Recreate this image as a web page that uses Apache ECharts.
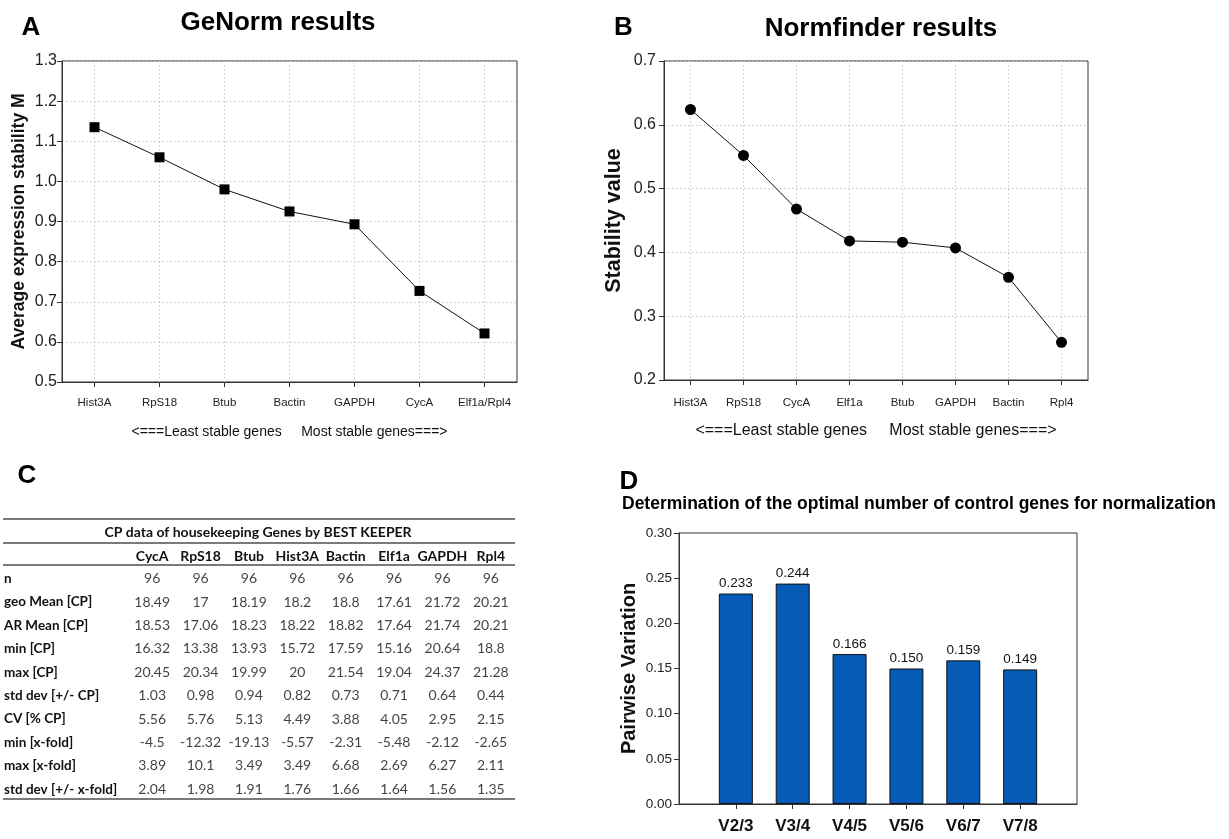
<!DOCTYPE html>
<html>
<head>
<meta charset="utf-8">
<script src="https://cdn.jsdelivr.net/npm/echarts@6/dist/echarts.min.js"></script>
<style>
html,body{margin:0;padding:0;background:#fff;}
#c{width:1229px;height:839px;}
</style>
</head>
<body>
<div id="c"></div>
<script>
// ---- Data ----
const genormGenes = ['Hist3A','RpS18','Btub','Bactin','GAPDH','CycA','Elf1a/Rpl4'];
const genormM = [1.135, 1.06, 0.98, 0.925, 0.893, 0.727, 0.621];
const genormTicks = [0.5,0.6,0.7,0.8,0.9,1.0,1.1,1.2,1.3];

const normGenes = ['Hist3A','RpS18','CycA','Elf1a','Btub','GAPDH','Bactin','Rpl4'];
const normStability = [0.624, 0.552, 0.468, 0.418, 0.416, 0.407, 0.361, 0.259];
const normTicks = [0.2,0.3,0.4,0.5,0.6,0.7];

const pairLabels = ['V2/3','V3/4','V4/5','V5/6','V6/7','V7/8'];
const pairValues = [0.233, 0.244, 0.166, 0.150, 0.159, 0.149];
const pairTicks = [0,0.05,0.10,0.15,0.20,0.25,0.30];

const tableGenes = ['CycA','RpS18','Btub','Hist3A','Bactin','Elf1a','GAPDH','Rpl4'];
const rowLabels = ['n','geo Mean [CP]','AR Mean [CP]','min [CP]','max [CP]','std dev [+/- CP]','CV [% CP]','min [x-fold]','max [x-fold]','std dev [+/- x-fold]'];
const rowN       = [96, 96, 96, 96, 96, 96, 96, 96];
const rowGeoMean = [18.49, 17, 18.19, 18.2, 18.8, 17.61, 21.72, 20.21];
const rowArMean  = [18.53, 17.06, 18.23, 18.22, 18.82, 17.64, 21.74, 20.21];
const rowMinCP   = [16.32, 13.38, 13.93, 15.72, 17.59, 15.16, 20.64, 18.8];
const rowMaxCP   = [20.45, 20.34, 19.99, 20, 21.54, 19.04, 24.37, 21.28];
const rowSdCP    = [1.03, 0.98, 0.94, 0.82, 0.73, 0.71, 0.64, 0.44];
const rowCV      = [5.56, 5.76, 5.13, 4.49, 3.88, 4.05, 2.95, 2.15];
const rowMinFold = [-4.5, -12.32, -19.13, -5.57, -2.31, -5.48, -2.12, -2.65];
const rowMaxFold = [3.89, 10.1, 3.49, 3.49, 6.68, 2.69, 6.27, 2.11];
const rowSdFold  = [2.04, 1.98, 1.91, 1.76, 1.66, 1.64, 1.56, 1.35];

// ---- Build ----
const tableRows = [rowN,rowGeoMean,rowArMean,rowMinCP,rowMaxCP,rowSdCP,rowCV,rowMinFold,rowMaxFold,rowSdFold];
const tableData = [];
tableRows.forEach((row, r) => row.forEach((v, c) => tableData.push([c, r, String(v)])));

const pairCats = [''].concat(pairLabels, ['']);
const pairData = [null].concat(pairValues, [null]);

const SANS = "'Liberation Sans',Arial,sans-serif";
const TBL = "Lato,'Open Sans',sans-serif";

const dotted = {show:true, lineStyle:{color:'#c6c6c6', type:[1.5,2.5], width:1}};
const axLine = {show:true, lineStyle:{color:'#333', width:1}};

const chart = echarts.init(document.getElementById('c'), null, {renderer:'canvas'});
chart.setOption({
  animation:false,
  backgroundColor:'#fff',
  textStyle:{fontFamily:SANS},
  grid:[
    {left:62, top:61, width:455, height:321, show:true, borderColor:'#333', borderWidth:1},
    {left:664, top:61, width:424, height:319, show:true, borderColor:'#333', borderWidth:1},
    {left:679, top:533, width:398, height:271, show:true, borderColor:'#333', borderWidth:1},
    {left:128, top:567, width:387, height:234, show:false}
  ],
  xAxis:[
    {gridIndex:0, type:'category', data:genormGenes, boundaryGap:true,
     axisLine:axLine, axisTick:{show:true, alignWithLabel:true, length:5, lineStyle:{color:'#333'}},
     splitLine:Object.assign({alignWithLabel:true}, dotted),
     axisLabel:{fontSize:11.5, color:'#222', margin:15, interval:0},
     name:'<===Least stable genes     Most stable genes===>', nameLocation:'middle', nameGap:43,
     nameTextStyle:{fontSize:14, color:'#111'}},
    {gridIndex:1, type:'category', data:normGenes, boundaryGap:true,
     axisLine:axLine, axisTick:{show:true, alignWithLabel:true, length:5, lineStyle:{color:'#333'}},
     splitLine:Object.assign({alignWithLabel:true}, dotted),
     axisLabel:{fontSize:11.5, color:'#222', margin:17, interval:0},
     name:'<===Least stable genes     Most stable genes===>', nameLocation:'middle', nameGap:43,
     nameTextStyle:{fontSize:16, color:'#111'}},
    {gridIndex:2, type:'category', data:pairCats, boundaryGap:false,
     axisLine:axLine,
     axisTick:{show:true, length:5, interval:(i)=> i>0 && i<pairCats.length-1, lineStyle:{color:'#333'}},
     splitLine:{show:false},
     axisLabel:{fontWeight:'bold', fontSize:17, color:'#111', margin:14, interval:0}},
    {gridIndex:3, type:'category', data:tableGenes, position:'top', boundaryGap:true,
     axisLine:{show:false}, axisTick:{show:false}, splitLine:{show:false},
     axisLabel:{fontFamily:TBL, fontWeight:'bold', fontSize:14, color:'#111', margin:4, interval:0}}
  ],
  yAxis:[
    {gridIndex:0, type:'value', min:genormTicks[0], max:genormTicks[genormTicks.length-1], interval:0.1,
     axisLine:axLine, axisTick:{show:true, length:5, lineStyle:{color:'#333'}}, splitLine:dotted,
     axisLabel:{fontSize:16, color:'#222', margin:5, formatter:v=>v.toFixed(1)},
     name:'Average expression stability M', nameLocation:'middle', nameGap:34,
     nameTextStyle:{fontWeight:'bold', fontSize:17.5, color:'#111'}},
    {gridIndex:1, type:'value', min:normTicks[0], max:normTicks[normTicks.length-1], interval:0.1,
     axisLine:axLine, axisTick:{show:true, length:5, lineStyle:{color:'#333'}}, splitLine:dotted,
     axisLabel:{fontSize:16, color:'#222', margin:8, formatter:v=>v.toFixed(1)},
     name:'Stability value', nameLocation:'middle', nameGap:39,
     nameTextStyle:{fontWeight:'bold', fontSize:21.5, color:'#111'}},
    {gridIndex:2, type:'value', min:pairTicks[0], max:pairTicks[pairTicks.length-1], interval:0.05,
     axisLine:axLine, axisTick:{show:true, length:5, lineStyle:{color:'#333'}}, splitLine:{show:false},
     axisLabel:{fontSize:13.5, color:'#222', margin:7, formatter:v=>v.toFixed(2)},
     name:'Pairwise Variation', nameLocation:'middle', nameGap:40,
     nameTextStyle:{fontWeight:'bold', fontSize:20, color:'#111'}},
    {gridIndex:3, type:'category', data:rowLabels, inverse:true, boundaryGap:true,
     axisLine:{show:false}, axisTick:{show:false}, splitLine:{show:false},
     axisLabel:{fontFamily:TBL, fontWeight:'bold', fontSize:13.5, color:'#111', margin:124, align:'left', interval:0}}
  ],
  series:[
    {type:'line', xAxisIndex:0, yAxisIndex:0, data:genormM,
     lineStyle:{color:'#111', width:1}, symbol:'rect', symbolSize:10,
     itemStyle:{color:'#000'}},
    {type:'line', xAxisIndex:1, yAxisIndex:1, data:normStability,
     lineStyle:{color:'#111', width:1}, symbol:'circle', symbolSize:11,
     itemStyle:{color:'#000'}},
    {type:'bar', xAxisIndex:2, yAxisIndex:2, data:pairData, barWidth:34,
     itemStyle:{color:'#055bb5', borderColor:'#111', borderWidth:1},
     label:{show:true, position:'top', distance:3, fontSize:13.5, color:'#111',
            formatter:p=>p.value==null?'':Number(p.value).toFixed(3)}},
    {type:'scatter', xAxisIndex:3, yAxisIndex:3, data:tableData, symbolSize:1,
     itemStyle:{color:'rgba(0,0,0,0)'},
     label:{show:true, position:'inside', fontFamily:TBL, fontSize:14, color:'#111',
            formatter:p=>p.value[2]}}
  ],
  graphic:[
    {type:'text', x:31, y:27.5, style:{text:'A', font:"bold 26px "+SANS, fill:'#000', textAlign:'center', textVerticalAlign:'middle'}},
    {type:'text', x:278, y:22.5, style:{text:'GeNorm results', font:"bold 26px "+SANS, fill:'#000', textAlign:'center', textVerticalAlign:'middle'}},
    {type:'text', x:623.5, y:27.5, style:{text:'B', font:"bold 26px "+SANS, fill:'#000', textAlign:'center', textVerticalAlign:'middle'}},
    {type:'text', x:881, y:29, style:{text:'Normfinder results', font:"bold 26px "+SANS, fill:'#000', textAlign:'center', textVerticalAlign:'middle'}},
    {type:'text', x:27, y:476, style:{text:'C', font:"bold 26px "+SANS, fill:'#000', textAlign:'center', textVerticalAlign:'middle'}},
    {type:'text', x:629, y:482, style:{text:'D', font:"bold 26px "+SANS, fill:'#000', textAlign:'center', textVerticalAlign:'middle'}},
    {type:'text', x:622, y:504, style:{text:'Determination of the optimal number of control genes for normalization', font:"bold 17.5px "+SANS, fill:'#000', textAlign:'left', textVerticalAlign:'middle'}},
    {type:'text', x:258, y:532.5, style:{text:'CP data of housekeeping Genes by BEST KEEPER', font:"bold 14px "+TBL, fill:'#111', textAlign:'center', textVerticalAlign:'middle'}},
    {type:'line', shape:{x1:3, y1:519, x2:515, y2:519}, style:{stroke:'#7a7a7a', lineWidth:2}},
    {type:'line', shape:{x1:3, y1:543, x2:515, y2:543}, style:{stroke:'#7a7a7a', lineWidth:2}},
    {type:'line', shape:{x1:3, y1:565, x2:515, y2:565}, style:{stroke:'#7a7a7a', lineWidth:2}},
    {type:'line', shape:{x1:3, y1:799, x2:515, y2:799}, style:{stroke:'#7a7a7a', lineWidth:2}}
  ]
});
</script>
</body>
</html>
